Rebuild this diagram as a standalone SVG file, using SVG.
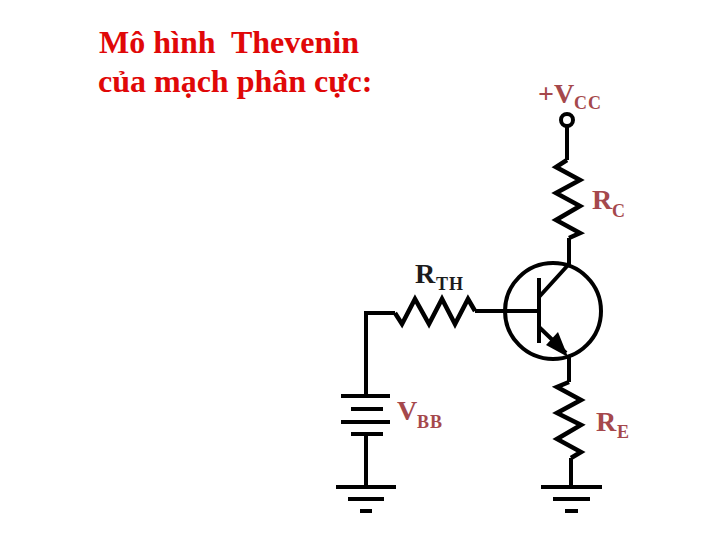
<svg xmlns="http://www.w3.org/2000/svg" width="720" height="540" viewBox="0 0 720 540">
<style>
text{font-family:"Liberation Serif","Times New Roman",serif;font-weight:bold}
.t{fill:#e00808;font-size:32px}
.l{fill:#a5484c;font-size:28px}
.s{fill:#a5484c;font-size:18px;letter-spacing:1px}
.k{fill:#1c1c1c}
.w{fill:none;stroke:#000;stroke-width:4;stroke-linejoin:miter}
.z{fill:none;stroke:#000;stroke-width:4.5;stroke-linejoin:miter}
</style>
<rect width="720" height="540" fill="#fff"/>
<g id="title">
<text class="t" x="99" y="53" xml:space="preserve">Mô hình  Thevenin</text>
<text class="t" x="98" y="92">của mạch phân cực:</text>
</g>
<g id="connectors">
<path class="w" d="M567 126V160M569 238V265M366 370V313H395M475 311H504M569 356V382M571 458V487M366 370V396M366 434V487"/>
</g>
<g id="vcc">
<circle class="w" cx="567" cy="120" r="6" fill="#fff"/>
<text class="l" x="538" y="103">+V</text><text class="s" x="574" y="109">CC</text>
</g>
<g id="rc">
<path class="z" d="M567 160L556 167L580 180L556 193L580 206L556 220L580 233L569 238"/>
<text class="l" x="592" y="209">R</text><text class="s" x="612" y="217">C</text>
</g>
<g id="rth">
<path class="z" d="M395 313L402 324L415 299L429 324L442 299L455 324L468 299L475 311"/>
<text class="l k" x="415" y="283">R</text><text class="s k" x="436" y="290">TH</text>
</g>
<g id="transistor">
<circle class="w" cx="553" cy="311" r="48"/>
<path class="w" d="M480 311H539M539 278V343M539 297L569 264M539 327L566 353"/>
<path d="M568 357L546 345L558 332Z" fill="#000"/>
</g>
<g id="re">
<path class="z" d="M569 382L557 387L581 400L557 413L581 425L557 439L581 452L571 458"/>
<text class="l" x="596" y="431">R</text><text class="s" x="617" y="438">E</text>
</g>
<g id="vbb">
<path class="w" d="M341 396H390M351 409H383M341 422H390M351 434H383"/>
<text class="l" x="397" y="420">V</text><text class="s" x="417" y="428">BB</text>
</g>
<g id="ground-left">
<path class="w" d="M336 487H396M348 499H384M360 511H372"/>
</g>
<g id="ground-right">
<path class="w" d="M541 487H602M553 499H590M565 511H578"/>
</g>
</svg>
